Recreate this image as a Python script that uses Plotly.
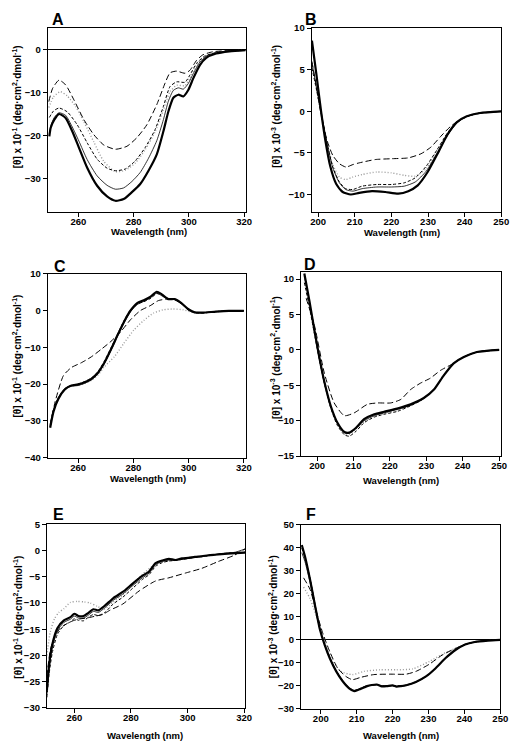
import plotly.graph_objects as go

# ---------------- data ----------------
# Panel A
A_thick_x = [249.5, 250, 251.3, 253, 255.4, 257.8, 260.2, 263.2, 266.8, 270.4, 273.4, 276.4, 279.4, 282.4, 285.4, 288.4, 290.8, 292.6, 294.4, 296.2, 298, 299.8, 301.6, 304, 306.3, 309.9, 314.7, 320.6]
A_thick_y = [-20.2, -18.2, -16.3, -15, -15.9, -19, -22.8, -27.5, -31.7, -34.2, -35.2, -34.8, -33.2, -31.3, -28.2, -24.4, -19, -14.4, -11.2, -10.5, -10.9, -9.4, -6.7, -3.6, -1.9, -0.9, -0.4, -0.1]
A_thin_x = A_thick_x
A_thin_y = [-19.5, -17.8, -15.8, -14.7, -15.3, -18.0, -21.3, -25.6, -29.4, -31.6, -32.5, -32.2, -30.7, -28.6, -25.3, -21.2, -16.3, -12, -9.5, -8.9, -9.2, -7.9, -5.6, -2.9, -1.5, -0.7, -0.3, -0.05]
A_sdash_x = [249.5, 251, 253, 256, 259.6, 263.2, 266.8, 270.4, 273.4, 277, 280.6, 284.2, 287.8, 290.8, 293.2, 295.6, 298.6, 300.4, 302.8, 305.7, 309.9, 314.7, 320.6]
A_sdash_y = [-15.8, -14.3, -13.6, -14.5, -17.5, -21.7, -25.5, -27.6, -28.2, -27.8, -25.9, -22.8, -18.6, -13.2, -8.6, -7.5, -7.6, -5.9, -3.2, -1.5, -0.7, -0.3, -0.1]
A_ldash_x = [249.3, 250.7, 253, 255.4, 258.4, 262, 265.6, 269.2, 273.4, 277.6, 281.2, 284.8, 288.4, 291.4, 293.2, 295.6, 298.6, 300.4, 302.8, 305.1, 308.7, 314.7, 320.6]
A_ldash_y = [-12.1, -9, -7.1, -8.2, -11.7, -16.3, -19.8, -22.2, -23.2, -22.5, -20.5, -17.5, -12.8, -7.8, -5.4, -5, -5.5, -4.8, -2.5, -1.2, -0.5, -0.2, 0]
A_dot_x = [249.3, 251, 253.5, 256, 259, 262, 265.6, 269.2, 273.4, 277, 280.6, 284.2, 287.8, 290.8, 293.2, 295.6, 298.6, 300.4, 302.8, 305.7, 309.9, 320.6]
A_dot_y = [-13.5, -11, -9.8, -10.8, -13.2, -16.8, -21.5, -26, -28.4, -28.1, -26.4, -23.3, -19.1, -14, -9.8, -8.3, -8.4, -6.6, -3.6, -1.7, -0.7, -0.1]

# Panel B
B_thick_x = [198.3, 199.5, 200.8, 202, 203.3, 204.9, 206.7, 208.9, 211.2, 214.7, 218.3, 221.9, 224.6, 227.2, 229.9, 232.6, 235.3, 237.9, 240.6, 244.2, 250]
B_thick_y = [8.5, 4.5, 0, -3.6, -6.6, -8.7, -9.7, -10, -9.8, -9.6, -9.7, -9.9, -9.6, -8.9, -7.3, -5.1, -2.8, -1.3, -0.6, -0.2, 0]
B_x = [198.3, 199.5, 201, 202.5, 204, 205.8, 207.5, 209.5, 212, 216, 220, 223.5, 226.5, 229.5, 232.5, 235.3, 237.9, 240.6, 244.2, 250]
B_thin_y = [5.8, 3, -0.5, -4, -6.8, -8.6, -9.4, -9.6, -9.3, -9.1, -9.1, -9.0, -8.5, -7.2, -5.0, -2.9, -1.4, -0.6, -0.2, 0]
B_sdash_y = [5.2, 2.7, -0.7, -4, -6.7, -8.5, -9.3, -9.4, -9.0, -8.8, -8.8, -8.6, -8.0, -6.6, -4.6, -2.6, -1.3, -0.6, -0.2, 0]
B_dot_y = [5.5, 2.8, -0.8, -4, -6.4, -7.9, -8.2, -7.9, -7.6, -7.3, -7.4, -7.7, -7.8, -6.9, -4.7, -2.7, -1.3, -0.6, -0.2, 0]
B_ldash_x = [198.3, 199.5, 201, 202.5, 204, 205.8, 207.6, 209.5, 211.2, 215.6, 220.1, 224.6, 228.1, 230.8, 233.5, 236.2, 238.8, 242.4, 245, 250]
B_ldash_y = [6.0, 3.0, -0.8, -3.6, -5.3, -6.3, -6.7, -6.4, -6.2, -5.8, -5.7, -5.6, -5.1, -4.3, -3.0, -1.8, -1.0, -0.4, -0.2, 0]

# Panel C
C_x = [249.9, 251.1, 252.9, 255.2, 257.6, 260, 262.4, 264.8, 267.1, 269.5, 271.9, 274.3, 276.6, 279, 281.4, 283.8, 286.1, 288.5, 290.3, 292.7, 295, 297.4, 299.8, 302.2, 305.1, 309.9, 314.6, 320]
C_thick_y = [-31.9, -27.5, -24, -21.5, -20.4, -20.1, -19.5, -18.6, -17, -14.2, -10.6, -6.7, -3.1, 0, 2, 2.8, 3.7, 5.1, 4.4, 3.1, 3.1, 2, 0.4, -0.5, -0.6, -0.3, -0.1, -0.1]
C_thin_y = [-31, -27, -23.6, -21.2, -20.6, -20.4, -19.8, -18.9, -17.3, -14.5, -10.9, -7.0, -3.4, -0.3, 1.6, 2.5, 3.4, 4.7, 4.0, 3.0, 3.0, 1.8, 0.3, -0.5, -0.6, -0.3, -0.1, -0.1]
C_sdash_y = [-31.5, -27.2, -23.8, -21.3, -20.3, -20.0, -19.3, -18.4, -16.7, -13.8, -10.2, -6.4, -2.8, 0.2, 1.8, 2.4, 3.2, 4.6, 4.2, 3.2, 3.0, 1.9, 0.2, -0.6, -0.7, -0.3, -0.1, 0]
C_ldash_x = [250, 251.7, 254.7, 257.6, 261.2, 264.8, 268.3, 271.9, 275.4, 279, 282.6, 286.1, 289.1, 292.1, 295, 297.4, 299.8, 302.2, 305.1, 309.9, 320]
C_ldash_y = [-31, -24.8, -17.7, -15.5, -14.2, -12.6, -10.6, -8.4, -5.8, -2.5, 0, 1.3, 2.7, 3.1, 3.0, 1.9, 0.3, -0.5, -0.6, -0.3, -0.1]
C_dot_x = [250, 251.1, 252.9, 255.2, 257.6, 260, 262.4, 265, 267.5, 269.5, 273.1, 276.6, 280.2, 283.8, 287.3, 290.9, 294.4, 298, 301, 305.1, 309.9, 320]
C_dot_y = [-31, -27, -23.7, -21.3, -20.5, -20.3, -19.8, -18.9, -17.3, -15.3, -12.6, -8.9, -5.3, -2.7, -0.7, 0.2, 0.4, 0.2, -0.4, -0.6, -0.3, -0.1]

# Panel D
D_x = [196.5, 197.9, 199.3, 200.6, 202, 203.8, 205.6, 207.5, 208.8, 210.7, 212.9, 215.7, 218.4, 222, 225.7, 229.3, 232.1, 234.8, 237.5, 240.3, 243.9, 250]
D_thick_y = [10.8, 6.9, 2.7, -1, -4.5, -8, -10.3, -11.6, -11.7, -11, -9.8, -9.1, -8.75, -8.3, -7.7, -6.8, -5.6, -3.6, -1.9, -1, -0.3, 0]
D_thin_y = [10.6, 6.7, 2.6, -1.1, -4.6, -8.1, -10.4, -11.7, -11.8, -11.1, -10, -9.3, -8.9, -8.4, -7.8, -6.8, -5.6, -3.6, -1.9, -1, -0.3, 0]
D_sdash_y = [9.5, 6.0, 2.2, -1.3, -4.7, -8.3, -10.7, -12.0, -12.2, -11.5, -10.3, -9.5, -9.1, -8.7, -7.9, -6.9, -5.6, -3.6, -1.9, -1, -0.3, 0]
D_dot_y = [10.4, 6.6, 2.5, -1.1, -4.6, -8.1, -10.4, -11.8, -11.9, -11.2, -10.1, -9.4, -9.0, -8.5, -7.8, -6.8, -5.6, -3.6, -1.9, -1, -0.3, 0]
D_ldash_x = [197, 199.3, 202, 204.7, 207.5, 210.2, 213.8, 216.6, 220.2, 223, 225.7, 228.4, 231.1, 233.9, 237.5, 240.3, 243.9, 250]
D_ldash_y = [7.3, 3.4, -3.3, -7.5, -9.3, -8.9, -7.7, -7.5, -7.5, -7, -5.6, -4.7, -4, -2.9, -1.9, -1, -0.3, 0]

# Panel E
E_x = [250.3, 251.1, 252.2, 254, 256.3, 258.6, 260, 261.5, 263.2, 265, 266.7, 268.5, 270.8, 273.7, 277.1, 280.6, 284.1, 286.4, 288.7, 291.1, 293.4, 295.7, 298, 300.3, 302.6, 305, 307.3, 309.6, 312, 314.2, 317, 320.3]
E_thick_y = [-26.6, -21.7, -17.9, -14.8, -13.3, -12.7, -12.05, -12.5, -12.5, -11.9, -11.2, -11.4, -10.5, -9.1, -7.9, -6.3, -4.8, -4, -2.4, -1.9, -1.6, -1.8, -1.5, -1.4, -1.2, -1.1, -0.9, -0.8, -0.7, -0.6, -0.5, -0.4]
E_thin_y = [-27.5, -22.5, -18.5, -15.3, -13.7, -13.1, -12.5, -12.9, -12.9, -12.3, -11.6, -11.8, -10.9, -9.5, -8.3, -6.7, -5.2, -4.3, -2.7, -2.1, -1.8, -1.9, -1.7, -1.5, -1.3, -1.1, -1.0, -0.8, -0.6, -0.5, -0.3, 0.3]
E_sdash_y = [-28, -23.5, -19.5, -16, -14.3, -13.6, -13.0, -13.3, -13.4, -12.7, -12.2, -12.4, -11.8, -10.2, -8.9, -7.2, -5.5, -4.6, -3.0, -2.3, -2.0, -1.9, -1.7, -1.5, -1.3, -1.1, -1.0, -0.8, -0.6, -0.5, -0.4, -0.3]
E_ldash_x = [250.3, 251.5, 253, 255, 257.5, 260, 262.5, 265, 267.5, 270, 272.5, 277.1, 282.9, 288.7, 293.4, 299.2, 305, 310.8, 316.5, 320.3]
E_ldash_y = [-24, -19, -16.5, -14.8, -13.9, -13.3, -13.0, -12.8, -12.5, -12.2, -11.4, -10.2, -7.7, -5.8, -5.2, -4.3, -3.4, -2.1, -0.9, 0.3]
E_dot_x = [250.3, 251.5, 253, 254.5, 256.3, 258.6, 261, 263.5, 265.6, 268, 270.5, 273.7, 277.1, 280.6, 284.1, 287.6, 291, 295.7, 300.3, 305, 309.6, 314.2, 320.3]
E_dot_y = [-20, -15.5, -13, -11.8, -11.1, -9.9, -9.7, -9.8, -10, -10.6, -11.2, -9.8, -8.5, -6.5, -4.5, -3, -2.1, -1.8, -1.4, -1.1, -0.8, -0.5, -0.3]

# Panel F
F_x = [194.7, 195.6, 197, 198.4, 199.7, 201.1, 202.5, 204.3, 206.1, 207.9, 209.3, 210.6, 212.9, 214.2, 215.6, 217, 218.4, 220, 221.1, 222.3, 223.8, 226.5, 229.3, 232, 234.7, 237.5, 240.2, 242.9, 246.5, 250]
F_thick_y = [41.3, 36.3, 26.3, 14.9, 4.9, -2.3, -8, -13.7, -18, -21.1, -22.3, -21.6, -20.1, -19.6, -19.4, -20.2, -20.1, -19.8, -20.3, -20.1, -19.7, -18.3, -15.9, -12.3, -8, -4.4, -2, -0.9, -0.3, 0]
F_thin_y = [38, 34, 25, 14.5, 4.8, -2.2, -7.9, -13.5, -17.8, -21, -22.0, -21.5, -20.0, -19.8, -19.6, -19.9, -20.0, -19.9, -20.2, -20.1, -19.8, -18.4, -16.0, -12.4, -8.1, -4.5, -2.0, -0.9, -0.3, 0]
F_sdash_y = [40, 35.5, 27, 15.5, 5.2, -2.1, -7.8, -13.5, -17.7, -20.8, -22.0, -21.3, -19.9, -19.7, -19.5, -20.0, -20.0, -19.9, -20.0, -19.9, -19.6, -18.2, -15.8, -12.2, -8.0, -4.4, -2.0, -0.9, -0.3, 0]
F_ldash_x = [195.2, 197, 198.8, 200.6, 202.5, 204.7, 207, 208.8, 211.1, 214.7, 219.3, 223.8, 226.5, 230.2, 233.8, 237.5, 240.2, 242.9, 246.5, 250]
F_ldash_y = [27, 22, 12, 2.7, -5.1, -12.3, -15.9, -17.3, -16.3, -15.1, -14.9, -14.9, -13.7, -10.6, -6.6, -3.7, -2, -0.9, -0.3, 0]
F_dot_x = [195.2, 197, 199.3, 201, 202.9, 205.6, 208.8, 212, 216.5, 221.1, 225.6, 230.2, 233.8, 237.5, 240.2, 242.9, 246.5, 250]
F_dot_y = [23, 18, 7.7, 0.5, -8, -13.7, -15.1, -13.7, -13, -13, -12.6, -9.4, -6.3, -3.7, -2, -0.9, -0.3, 0]

# axis ticks / labels
A_xticks = [260, 280, 300, 320]
B_xticks = [200, 210, 220, 230, 240, 250]
A_yticks = [-30, -20, -10, 0]
B_yticks = [-10, -5, 0, 5, 10]
C_yticks = [-40, -30, -20, -10, 0, 10]
D_yticks = [-15, -10, -5, 0, 5, 10]
E_yticks = [-30, -25, -20, -15, -10, -5, 0, 5]
F_yticks = [-30, -20, -10, 0, 10, 20, 30, 40, 50]
panel_letters = ["A", "B", "C", "D", "E", "F"]
ytitle_m1 = "[θ] x 10<sup>-1</sup> (deg·cm<sup>2</sup>·dmol<sup>-1</sup>)"
ytitle_m3 = "[θ] x 10<sup>-3</sup> (deg·cm<sup>2</sup>·dmol<sup>-1</sup>)"
xtitle = "Wavelength (nm)"

# ---------------- layout geometry (pixels) ----------------
W, H = 524, 752
FONT = "Arial, Liberation Sans, sans-serif"

panels = [
    dict(box=(47.5, 249, 22.5, 209), xr=[248.9, 320.6], yr=[-37.8, 5], xt=A_xticks, yt=A_yticks, zero=True,
         s=[(A_dot_x, A_dot_y), (A_ldash_x, A_ldash_y), (A_sdash_x, A_sdash_y), (A_thin_x, A_thin_y), (A_thick_x, A_thick_y)],
         yt_title=ytitle_m1, ytx=16, yty=102, xtx=151, xty=229, lx=58, ly=13.5),
    dict(box=(316, 509, 22.5, 209), xr=[198.2, 250], yr=[-12.1, 10], xt=B_xticks, yt=B_yticks, zero=False,
         s=[(B_x, B_dot_y), (B_ldash_x, B_ldash_y), (B_x, B_sdash_y), (B_x, B_thin_y), (B_thick_x, B_thick_y)],
         yt_title=ytitle_m3, ytx=279, yty=102, xtx=408, xty=230, lx=315, ly=13.5),
    dict(box=(47.5, 249.3, 271.7, 458.3), xr=[249, 320.8], yr=[-40, 10], xt=A_xticks, yt=C_yticks, zero=False,
         s=[(C_dot_x, C_dot_y), (C_ldash_x, C_ldash_y), (C_x, C_sdash_y), (C_x, C_thin_y), (C_x, C_thick_y)],
         yt_title=ytitle_m1, ytx=16, yty=355, xtx=150, xty=480, lx=60, ly=264),
    dict(box=(305.3, 508.7, 270, 456.7), xr=[195.6, 250.5], yr=[-15, 11], xt=B_xticks, yt=D_yticks, zero=False,
         s=[(D_x, D_dot_y), (D_ldash_x, D_ldash_y), (D_x, D_sdash_y), (D_x, D_thin_y), (D_x, D_thick_y)],
         yt_title=ytitle_m3, ytx=279, yty=357, xtx=407, xty=482, lx=314.5, ly=262.5),
    dict(box=(46.7, 248.3, 526, 712.3), xr=[250.3, 320.3], yr=[-30, 5], xt=A_xticks, yt=E_yticks, zero=False,
         s=[(E_dot_x, E_dot_y), (E_ldash_x, E_ldash_y), (E_x, E_sdash_y), (E_x, E_thin_y), (E_x, E_thick_y)],
         yt_title=ytitle_m1, ytx=17, yty=620, xtx=147, xty=740, lx=59, ly=516),
    dict(box=(305.3, 508, 526.7, 713.3), xr=[194.5, 250], yr=[-30, 50], xt=B_xticks, yt=F_yticks, zero=True,
         s=[(F_dot_x, F_dot_y), (F_ldash_x, F_ldash_y), (F_x, F_sdash_y), (F_x, F_thin_y), (F_x, F_thick_y)],
         yt_title=ytitle_m3, ytx=277, yty=620, xtx=407, xty=740, lx=315, ly=516),
]

styles = [
    dict(color="#9a9a9a", width=1.4, dash="1px,2px"),
    dict(color="black", width=1.0, dash="6px,3px"),
    dict(color="black", width=1.0, dash="3px,2px"),
    dict(color="black", width=0.8, dash="solid"),
    dict(color="black", width=2.2, dash="solid"),
]

fig = go.Figure()
layout = dict(width=W, height=H, margin=dict(l=0, r=0, t=0, b=0), showlegend=False,
              paper_bgcolor="white", plot_bgcolor="white", font=dict(family=FONT, color="black"))
annotations = []

for i, p in enumerate(panels):
    n = i + 1
    xa = "xaxis" if n == 1 else f"xaxis{n}"
    ya = "yaxis" if n == 1 else f"yaxis{n}"
    xref = "x" if n == 1 else f"x{n}"
    yref = "y" if n == 1 else f"y{n}"
    x0, x1, yt, yb = p["box"]
    layout[xa] = dict(domain=[x0 / W, x1 / W], range=p["xr"], anchor=yref, tickvals=p["xt"],
                      ticks="outside", ticklen=4, tickwidth=1, tickcolor="black",
                      ticklabelstandoff=-3,
                      showline=True, mirror=True, linecolor="black", linewidth=1,
                      showgrid=False, zeroline=False,
                      tickfont=dict(size=9.5, family=FONT, weight="bold"))
    layout[ya] = dict(domain=[1 - yb / H, 1 - yt / H], range=p["yr"], anchor=xref, tickvals=p["yt"],
                      ticks="outside", ticklen=4, tickwidth=1, tickcolor="black",
                      showline=True, mirror=True, linecolor="black", linewidth=1,
                      showgrid=False, zeroline=p["zero"], zerolinecolor="black", zerolinewidth=1,
                      tickfont=dict(size=9.5, family=FONT, weight="bold"))
    for (sx, sy), st in zip(p["s"], styles):
        fig.add_trace(go.Scatter(x=sx, y=sy, mode="lines", xaxis=xref, yaxis=yref,
                                 line=dict(color=st["color"], width=st["width"], dash=st["dash"],
                                           shape="spline", smoothing=0.6),
                                 hoverinfo="skip"))
    annotations.append(dict(text=p["yt_title"], x=p["ytx"] / W, y=1 - p["yty"] / H, xref="paper", yref="paper",
                            textangle=-90, showarrow=False, xanchor="center", yanchor="middle",
                            font=dict(size=10, family=FONT, weight="bold")))
    annotations.append(dict(text=xtitle, x=p["xtx"] / W, y=1 - p["xty"] / H, xref="paper", yref="paper",
                            showarrow=False, xanchor="center", yanchor="middle",
                            font=dict(size=9.5, family=FONT, weight="bold")))
    annotations.append(dict(text=panel_letters[i], x=p["lx"] / W, y=1 - p["ly"] / H, xref="paper", yref="paper",
                            showarrow=False, xanchor="center", yanchor="middle",
                            font=dict(size=16, family=FONT, weight="bold")))

layout["annotations"] = annotations
fig.update_layout(**layout)
fig.write_html("out.html", config={"displayModeBar": False},
               post_script="document.body.style.margin='0px';document.body.style.overflow='hidden';")
